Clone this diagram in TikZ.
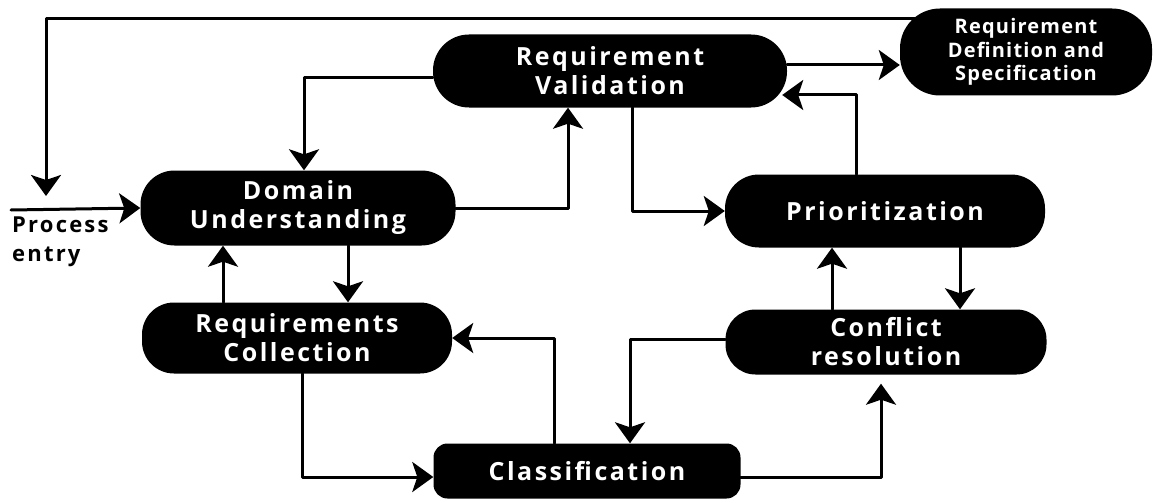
\documentclass[tikz,border=0pt]{standalone}
\usepackage{fontspec}
\setmainfont{Open Sans}
\newfontfamily\boxfont{Open Sans}[LetterSpace=10]
\newfontfamily\ovalfont{Open Sans}[LetterSpace=6]
\usepackage{tikz}
\usetikzlibrary{arrows.meta}
\usetikzlibrary{calc}
\tikzset{
  stage/.style={fill=black, text=white, align=center, inner sep=0pt,
    rounded corners=30pt, font=\boxfont\bfseries\fontsize{25}{29}\selectfont},
  link/.style={->, line width=3pt},
}

\begin{document}
\begin{tikzpicture}[line cap=round,line join=round,>={Stealth[length=21pt,width=30pt,inset=5pt]},x=1pt,y=-1pt]
\useasboundingbox (0,0) rectangle (1160,503);
\node[stage, minimum width=354pt, minimum height=73pt, rounded corners=36pt] (rv) at (610,71) {Requirement\\Validation};
\node[stage, minimum width=252pt, minimum height=87pt, rounded corners=40pt,
  font=\ovalfont\bfseries\fontsize{20}{23.5}\selectfont] (rds) at (1026,52) {Requirement\\Definition and\\Specification};
\node[stage, minimum width=315pt, minimum height=75pt, rounded corners=34pt] (dom) at (298,208) {Domain\\Understanding};
\node[stage, minimum width=310pt, minimum height=71pt, rounded corners=32pt] (coll) at (297,338) {Requirements\\Collection};
\node[stage, minimum width=320pt, minimum height=73pt, rounded corners=34pt] (prio) at (885,211) {Prioritization};
\node[stage, minimum width=321pt, minimum height=65pt, rounded corners=30pt] (conf) at (886,342) {Conflict\\resolution};
\node[stage, minimum width=307pt, minimum height=55pt, rounded corners=14pt] (cls) at (587,471) {Classification};
\node[anchor=north west, align=left, inner sep=0pt,
  font=\boxfont\bfseries\fontsize{22}{29}\selectfont] (entry) at (12,217) {Process\\entry};
\coordinate (src) at (11,210);
\coordinate (back) at (46,196);
\coordinate (rdstop) at ($(rds.north west)+(20,10)$);
\draw[link] (src) -- (dom.west);
\draw[link] (rdstop) -| (back);
\draw[link] ($(rv.west)+(0,7)$) -| ($(dom.north)+(6,0)$);
\draw[link] (dom.east) -| ($(rv.south)+(-42,0)$);
\draw[link] ($(rv.east)+(0,-6)$) -- ($(rds.west)+(0,13)$);
\draw[link] ($(prio.north)+(-29,0)$) |- ($(rv.east)+(-5,24)$);
\draw[link] ($(rv.south)+(22,0)$) |- (prio.west);
\draw[link] ($(prio.south)+(75,0)$) -- ($(conf.north)+(74,0)$);
\draw[link] ($(conf.north)+(-54,0)$) -- ($(prio.south)+(-53,0)$);
\draw[link] ($(conf.west)+(0,-3)$) -| ($(cls.north)+(43,0)$);
\draw[link, shorten >=9pt] ($(cls.east)+(0,6)$) -| ($(conf.south)+(-5,0)$);
\draw[link] ($(cls.north)+(-33,0)$) |- (coll.east);
\draw[link] ($(coll.south)+(5,0)$) |- ($(cls.west)+(0,6)$);
\draw[link] ($(dom.south)+(50,0)$) -- ($(coll.north)+(51,0)$);
\draw[link] ($(coll.north)+(-74,0)$) -- ($(dom.south)+(-75,0)$);
\end{tikzpicture}
\end{document}
